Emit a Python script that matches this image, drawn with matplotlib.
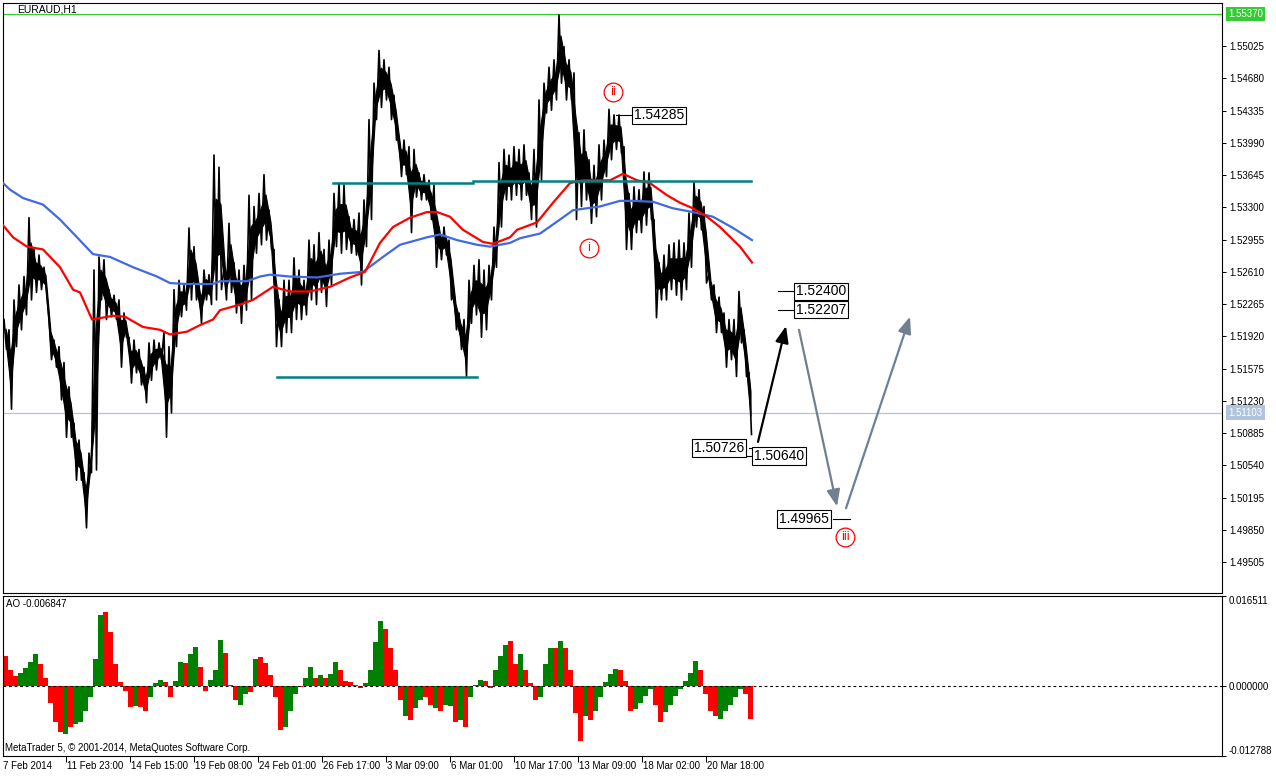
import matplotlib
matplotlib.use("Agg")

import matplotlib.pyplot as plt
import matplotlib.transforms as mtransforms
import numpy as np

from typing import List

# EURAUD H1 bars in blocks of 5 bars (high / low of each block)
BLOCK = 5

block_highs: List[float] = [
    1.5210, 1.5199, 1.5231, 1.5247, 1.5256, 1.5319, 1.5285, 1.5279, 1.5266, 1.5210,
    1.5188, 1.5181, 1.5164, 1.5138, 1.5099, 1.5081, 1.5046, 1.5067, 1.5263, 1.5277,
    1.5274, 1.5242, 1.5236, 1.5231, 1.5217, 1.5191, 1.5188, 1.5178, 1.5159, 1.5185,
    1.5188, 1.5185, 1.5196, 1.5181, 1.5242, 1.5252, 1.5247, 1.5308, 1.5288, 1.5245,
    1.5263, 1.5258, 1.5386, 1.5373, 1.5266, 1.5313, 1.5271, 1.5263, 1.5268, 1.5343,
    1.5331, 1.5345, 1.5365, 1.5327, 1.5285, 1.5231, 1.5252, 1.5252, 1.5276, 1.5263,
    1.5252, 1.5295, 1.5290, 1.5303, 1.5285, 1.5295, 1.5345, 1.5356, 1.5354, 1.5320,
    1.5317, 1.5324, 1.5338, 1.5424, 1.5463, 1.5498, 1.5488, 1.5480, 1.5450, 1.5405,
    1.5402, 1.5395, 1.5392, 1.5367, 1.5365, 1.5359, 1.5354, 1.5309, 1.5309, 1.5295,
    1.5239, 1.5217, 1.5210, 1.5252, 1.5268, 1.5274, 1.5263, 1.5268, 1.5309, 1.5378,
    1.5392, 1.5386, 1.5395, 1.5392, 1.5397, 1.5367, 1.5392, 1.5445, 1.5463, 1.5480,
    1.5488, 1.5536, 1.5502, 1.5488, 1.5474, 1.5410, 1.5413, 1.5381, 1.5375, 1.5397,
    1.5402, 1.5435, 1.5429, 1.5429, 1.5395, 1.5345, 1.5352, 1.5349, 1.5368, 1.5367,
    1.5317, 1.5271, 1.5279, 1.5290, 1.5292, 1.5295, 1.5292, 1.5324, 1.5357, 1.5349,
    1.5331, 1.5260, 1.5247, 1.5234, 1.5217, 1.5210, 1.5210, 1.5240, 1.5199, 1.5153,
]
block_lows: List[float] = [
    1.5178, 1.5114, 1.5181, 1.5199, 1.5215, 1.5231, 1.5239, 1.5242, 1.5239, 1.5167,
    1.5159, 1.5124, 1.5084, 1.5084, 1.5038, 1.5038, 1.4987, 1.5046, 1.5049, 1.5231,
    1.5210, 1.5213, 1.5210, 1.5159, 1.5191, 1.5142, 1.5153, 1.5140, 1.5121, 1.5145,
    1.5156, 1.5167, 1.5084, 1.5110, 1.5181, 1.5213, 1.5220, 1.5231, 1.5231, 1.5206,
    1.5231, 1.5226, 1.5231, 1.5242, 1.5231, 1.5239, 1.5217, 1.5206, 1.5220, 1.5231,
    1.5281, 1.5290, 1.5295, 1.5285, 1.5181, 1.5181, 1.5196, 1.5196, 1.5210, 1.5210,
    1.5215, 1.5231, 1.5226, 1.5239, 1.5224, 1.5247, 1.5288, 1.5281, 1.5285, 1.5281,
    1.5279, 1.5247, 1.5288, 1.5317, 1.5424, 1.5437, 1.5445, 1.5424, 1.5402, 1.5363,
    1.5365, 1.5303, 1.5341, 1.5338, 1.5338, 1.5317, 1.5266, 1.5274, 1.5279, 1.5231,
    1.5199, 1.5178, 1.5149, 1.5206, 1.5215, 1.5191, 1.5199, 1.5231, 1.5266, 1.5309,
    1.5338, 1.5338, 1.5343, 1.5338, 1.5343, 1.5317, 1.5309, 1.5359, 1.5431, 1.5434,
    1.5445, 1.5463, 1.5445, 1.5445, 1.5317, 1.5331, 1.5338, 1.5313, 1.5320, 1.5338,
    1.5363, 1.5381, 1.5392, 1.5388, 1.5285, 1.5285, 1.5303, 1.5303, 1.5311, 1.5317,
    1.5212, 1.5231, 1.5231, 1.5242, 1.5236, 1.5231, 1.5242, 1.5266, 1.5309, 1.5306,
    1.5249, 1.5231, 1.5196, 1.5196, 1.5159, 1.5167, 1.5149, 1.5185, 1.5149, 1.5087,
]

# moving averages: bar index and value
red_ma_bars = [0, 10, 24, 40, 57, 70, 77, 89, 110, 122, 140, 157, 167, 184, 197, 210,
               217, 237, 250, 270, 287, 307, 327, 347, 362, 377, 390, 407, 424, 434,
               447, 460, 480, 490, 507, 514, 534, 550, 567, 580, 607, 620, 634, 647,
               664, 677, 690, 704, 717, 737, 749]
red_ma = [1.5311, 1.5298, 1.5288, 1.5285, 1.5266, 1.5242, 1.5239, 1.5210, 1.5214, 1.5213,
          1.5202, 1.5199, 1.5194, 1.5197, 1.5204, 1.5210, 1.5220, 1.5226, 1.5231, 1.5245,
          1.5240, 1.5240, 1.5245, 1.5255, 1.5261, 1.5292, 1.5309, 1.5319, 1.5325, 1.5325,
          1.5320, 1.5306, 1.5293, 1.5291, 1.5298, 1.5306, 1.5314, 1.5335, 1.5356, 1.5359,
          1.5359, 1.5366, 1.5359, 1.5356, 1.5343, 1.5335, 1.5329, 1.5320, 1.5309, 1.5288,
          1.5271]

blue_ma_bars = [0, 7, 20, 40, 57, 74, 90, 107, 130, 154, 167, 184, 210, 217, 244, 257,
                267, 287, 314, 337, 360, 380, 397, 424, 437, 454, 474, 487, 507, 517,
                537, 557, 570, 597, 617, 630, 650, 670, 690, 710, 730, 749]
blue_ma = [1.5356, 1.5349, 1.5340, 1.5333, 1.5317, 1.5298, 1.5280, 1.5277, 1.5266, 1.5256,
           1.5249, 1.5248, 1.5248, 1.5251, 1.5251, 1.5256, 1.5258, 1.5256, 1.5255, 1.5259,
           1.5261, 1.5277, 1.5290, 1.5298, 1.5301, 1.5295, 1.5290, 1.5288, 1.5292, 1.5297,
           1.5302, 1.5317, 1.5327, 1.5331, 1.5337, 1.5337, 1.5336, 1.5329, 1.5325, 1.5320,
           1.5308, 1.5295]

# Awesome Oscillator per 5-bar block; g = rising bar, r = falling bar
ao_values = [
    0.0055, 0.0030, 0.0018, 0.0025, 0.0033, 0.0045, 0.0058, 0.0040, 0.0015, -0.0030,
    -0.0065, -0.0084, -0.0088, -0.0075, -0.0070, -0.0065, -0.0045, -0.0020, 0.0050, 0.0130,
    0.0136, 0.0100, 0.0040, 0.0008, -0.0008, -0.0038, -0.0036, -0.0038, -0.0045, -0.0020,
    0.0006, 0.0011, 0.0008, -0.0020, 0.0010, 0.0045, 0.0042, 0.0058, 0.0072, 0.0035,
    -0.0008, 0.0012, 0.0030, 0.0085, 0.0060, 0.0003, -0.0025, -0.0035, -0.0015, -0.0010,
    0.0050, 0.0053, 0.0042, 0.0020, -0.0020, -0.0080, -0.0075, -0.0045, -0.0015, -0.0002,
    0.0015, 0.0035, 0.0015, 0.0020, 0.0015, 0.0022, 0.0045, 0.0030, 0.0010, 0.0007,
    0.0003, -0.0003, 0.0005, 0.0030, 0.0080, 0.0120, 0.0105, 0.0070, 0.0030, -0.0025,
    -0.0055, -0.0062, -0.0040, -0.0025, -0.0020, -0.0035, -0.0040, -0.0046, -0.0035, -0.0036,
    -0.0065, -0.0062, -0.0075, -0.0020, 0.0003, 0.0012, 0.0010, -0.0003, 0.0030, 0.0056,
    0.0075, 0.0082, 0.0040, 0.0058, 0.0030, 0.0005, -0.0025, -0.0020, 0.0040, 0.0070,
    0.0070, 0.0082, 0.0070, 0.0030, -0.0050, -0.0100, -0.0055, -0.0062, -0.0045, -0.0020,
    0.0008, 0.0022, 0.0032, 0.0030, 0.0010, -0.0045, -0.0042, -0.0030, -0.0018, -0.0005,
    -0.0035, -0.0065, -0.0048, -0.0035, -0.0018, -0.0006, 0.0010, 0.0025, 0.0046, 0.0030,
    -0.0015, -0.0045, -0.0055, -0.0060, -0.0045, -0.0035, -0.0020, -0.0005, -0.0015, -0.0060,
]
ao_colours = ("rrrggggrrr" "rrgrgggggg" "rrrrrrgrrg" "ggrrggrggr" "rgggrrrggr"
              "grrrrrgggr" "ggrgrggrrr" "rrggggrrrr" "grggrrgrgg" "rgrgggrrgg"
              "grrgrrrggg" "rgrrrrgrgg" "gggrrrgggg" "rrgggggggr" "rrrgggggrr")
ao_now = -0.006847
ao_top = 0.016511
ao_bottom = -0.012788

time_labels = ["7 Feb 2014", "11 Feb 23:00", "14 Feb 15:00", "19 Feb 08:00",
               "24 Feb 01:00", "26 Feb 17:00", "3 Mar 09:00", "6 Mar 01:00",
               "10 Mar 17:00", "13 Mar 09:00", "18 Mar 02:00", "20 Mar 18:00"]
bars_per_label = 64

price_ticks = [1.55025, 1.54680, 1.54335, 1.53990, 1.53645, 1.53300, 1.52955, 1.52610,
               1.52265, 1.51920, 1.51575, 1.51230, 1.50885, 1.50540, 1.50195, 1.49850,
               1.49505]
high_level = 1.55370
bid_level = 1.51103

# drawn objects (bar index, price)
upper_line_1 = ([330, 470], [1.53562, 1.53562])
upper_line_2 = ([470, 748], [1.53583, 1.53583])
lower_line = ([274, 474], [1.51486, 1.51486])

tag_prices = [1.54285, 1.52400, 1.52207, 1.50726, 1.50640, 1.49965]
tag_box_bars = [629, 791, 791, 689, 749, 774]
tag_stub_bars = [(613, 629), (775, 791), (775, 791), (746, 762), (733, 749), (830, 847)]

wave_names = ["i", "ii", "iii"]
wave_bars = [586, 610, 842]
wave_prices = [1.52866, 1.54536, 1.49774]

black_arrow = ((755, 1.5079), (783, 1.5203))
grey_arrows = [((796, 1.5199), (834, 1.5010)), ((843, 1.5008), (907, 1.5213))]

W, H = 1276, 777
FONT = 7


def px_rect(x0: float, y0: float, x1: float, y1: float) -> list:
    return [x0 / W, 1 - y1 / H, (x1 - x0) / W, (y1 - y0) / H]


def draw_price_panel(ax) -> None:
    n = len(block_highs)
    starts = np.arange(n) * BLOCK
    highs = np.array(block_highs)
    lows = np.array(block_lows)

    # dense core of each block, then the wicks as a high/low zigzag
    span = highs - lows
    ax.fill_between(starts + BLOCK / 2, lows + 0.3 * span, highs - 0.3 * span,
                    color="black", lw=0.8, zorder=2)
    xs = np.empty(2 * n)
    ys = np.empty(2 * n)
    xs[0::2] = starts + 1.0
    xs[1::2] = starts + 3.5
    ys[0::2] = highs
    ys[1::2] = lows
    ax.plot(xs, ys, color="black", lw=1.2, zorder=2)

    ax.plot(blue_ma_bars, blue_ma, color="#4169e1", lw=1.6, zorder=3)
    ax.plot(red_ma_bars, red_ma, color="#ff0000", lw=1.6, zorder=3)

    for xs_, ys_ in (upper_line_1, upper_line_2, lower_line):
        ax.plot(xs_, ys_, color="#008080", lw=1.8, zorder=4)

    ax.axhline(high_level, color="#32cd32", lw=0.9, zorder=1)
    ax.axhline(bid_level, color="#b0c4de", lw=0.9, zorder=1)

    # price tags with their stubs
    for price, box_x, stub in zip(tag_prices, tag_box_bars, tag_stub_bars):
        ax.plot(stub, [price, price], color="black", lw=0.8, zorder=5)
        ax.text(box_x + 2, price, f"{price:.5f}", fontsize=10, va="center", ha="left",
                zorder=6, bbox=dict(boxstyle="square,pad=0.12", fc="white", ec="black", lw=0.8))

    # wave counts
    for name, bx, py in zip(wave_names, wave_bars, wave_prices):
        ax.plot(bx, py, "o", ms=13.5, mfc="white", mec="red", mew=0.9, zorder=6)
        ax.text(bx, py, name, color="red", fontsize=9, ha="center", va="center", zorder=7)

    head = "-|>,head_length=1.0,head_width=0.4"
    ax.annotate("", xy=black_arrow[1], xytext=black_arrow[0],
                arrowprops=dict(arrowstyle=head, color="black", lw=1.6, shrinkA=0,
                                shrinkB=0, mutation_scale=10), zorder=6)
    for start, end in grey_arrows:
        ax.annotate("", xy=end, xytext=start,
                    arrowprops=dict(arrowstyle=head, color="#708090", lw=1.6, shrinkA=0,
                                    shrinkB=0, mutation_scale=10), zorder=6)

    ax.set_xlim(0, 1219)
    ax.set_ylim(1.491729, 1.554877)
    ax.set_xticks([])
    ax.yaxis.tick_right()
    ax.set_yticks(price_ticks)
    ax.set_yticklabels([f"{p:.5f}" for p in price_ticks])
    ax.tick_params(axis="y", direction="out", length=3, width=0.7, pad=2, labelsize=FONT)

    side = mtransforms.blended_transform_factory(ax.transAxes, ax.transData)
    ax.text(1.0 + 6 / 1219, high_level, f"{high_level:.5f}", transform=side, color="white",
            fontsize=FONT, va="center", ha="left", clip_on=False,
            bbox=dict(boxstyle="square,pad=0.25", fc="#32cd32", ec="none"))
    ax.text(1.0 + 6 / 1219, bid_level, f"{bid_level:.5f}", transform=side, color="white",
            fontsize=FONT, va="center", ha="left", clip_on=False,
            bbox=dict(boxstyle="square,pad=0.25", fc="#b0c4de", ec="none"))

    ax.text(14 / 1219, 1 - 6 / 590, "EURAUD,H1", transform=ax.transAxes, fontsize=7.5,
            va="center", ha="left")
    for s in ax.spines.values():
        s.set_linewidth(0.8)


def draw_ao_panel(ax) -> None:
    n = len(ao_values)
    starts = np.arange(n) * BLOCK
    colours = ["#008000" if c == "g" else "#ff0000" for c in ao_colours]
    ax.bar(starts, ao_values, width=BLOCK, align="edge", color=colours, linewidth=0, zorder=2)
    ax.axhline(0, color="black", lw=0.8, ls=(0, (2.5, 2.5)), zorder=3)

    ax.set_xlim(0, 1219)
    ax.set_ylim(ao_bottom, ao_top)
    ax.yaxis.tick_right()
    ax.set_yticks([ao_bottom, 0.0, ao_top])
    ax.set_yticklabels([f"{ao_bottom:.6f}", f"{0.0:.6f}", f"{ao_top:.6f}"])
    ax.tick_params(axis="y", direction="out", length=3, width=0.7, pad=2, labelsize=FONT)
    labels = ax.get_yticklabels()
    labels[0].set_va("bottom")
    labels[-1].set_va("top")

    tick_bars = [k * bars_per_label - 1 for k in range(len(time_labels))]
    ax.set_xticks(tick_bars[1:])
    ax.set_xticklabels([])
    ax.tick_params(axis="x", direction="out", length=4, width=0.7)
    under = mtransforms.blended_transform_factory(ax.transData, ax.transAxes)
    for tb, lab in zip(tick_bars, time_labels):
        ax.text(tb + 1, -0.03, lab, transform=under, fontsize=FONT, va="top", ha="left",
                clip_on=False)

    ax.text(3 / 1219, 0.95, f"AO {ao_now:.6f}", transform=ax.transAxes, fontsize=FONT,
            va="center", ha="left")
    ax.text(2 / 1219, 0.05, "MetaTrader 5, \u00a9 2001-2014, MetaQuotes Software Corp.",
            transform=ax.transAxes, fontsize=FONT, va="center", ha="left")
    for s in ax.spines.values():
        s.set_linewidth(0.8)


def main() -> None:
    plt.rcParams["font.family"] = ["Liberation Sans", "DejaVu Sans"]
    fig = plt.figure(figsize=(W / 100, H / 100), dpi=100)
    ax_price = fig.add_axes(px_rect(3, 3, 1222, 593))
    ax_ao = fig.add_axes(px_rect(3, 596, 1222, 756))
    draw_price_panel(ax_price)
    draw_ao_panel(ax_ao)
    fig.savefig("out.png", dpi=100, facecolor="white")


if __name__ == "__main__":
    main()
